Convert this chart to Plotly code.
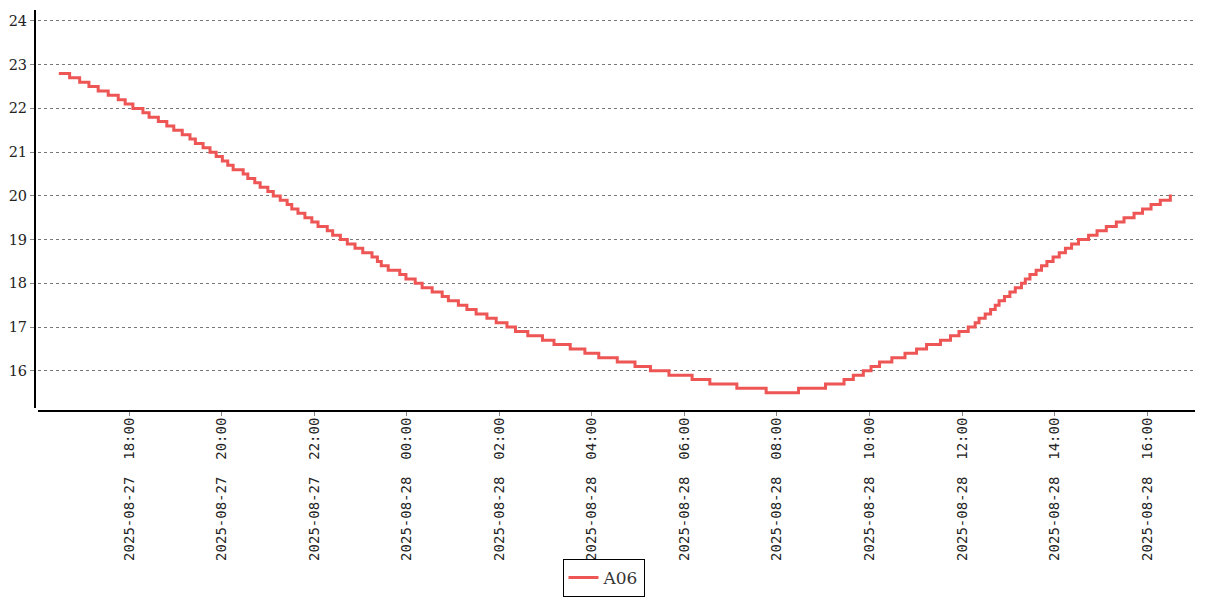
import plotly.graph_objects as go

series_name = "A06"

times = [
    "2025-08-27 16:29", "2025-08-27 16:43", "2025-08-27 16:56", "2025-08-27 17:08", "2025-08-27 17:20",
    "2025-08-27 17:33", "2025-08-27 17:46", "2025-08-27 17:55", "2025-08-27 18:05", "2025-08-27 18:18",
    "2025-08-27 18:26", "2025-08-27 18:38", "2025-08-27 18:49", "2025-08-27 18:58", "2025-08-27 19:09",
    "2025-08-27 19:19", "2025-08-27 19:26", "2025-08-27 19:36", "2025-08-27 19:45", "2025-08-27 19:53",
    "2025-08-27 20:01", "2025-08-27 20:08", "2025-08-27 20:15", "2025-08-27 20:28", "2025-08-27 20:34",
    "2025-08-27 20:43", "2025-08-27 20:50", "2025-08-27 21:00", "2025-08-27 21:07", "2025-08-27 21:16",
    "2025-08-27 21:25", "2025-08-27 21:31", "2025-08-27 21:39", "2025-08-27 21:48", "2025-08-27 21:57",
    "2025-08-27 22:05", "2025-08-27 22:17", "2025-08-27 22:24", "2025-08-27 22:34", "2025-08-27 22:43",
    "2025-08-27 22:53", "2025-08-27 23:03", "2025-08-27 23:15", "2025-08-27 23:22", "2025-08-27 23:27",
    "2025-08-27 23:36", "2025-08-27 23:51", "2025-08-27 23:59", "2025-08-28 00:11", "2025-08-28 00:20",
    "2025-08-28 00:33", "2025-08-28 00:46", "2025-08-28 00:54", "2025-08-28 01:07", "2025-08-28 01:18",
    "2025-08-28 01:30", "2025-08-28 01:44", "2025-08-28 01:56", "2025-08-28 02:10", "2025-08-28 02:21",
    "2025-08-28 02:37", "2025-08-28 02:56", "2025-08-28 03:11", "2025-08-28 03:32", "2025-08-28 03:51",
    "2025-08-28 04:09", "2025-08-28 04:33", "2025-08-28 04:56", "2025-08-28 05:16", "2025-08-28 05:40",
    "2025-08-28 06:10", "2025-08-28 06:33", "2025-08-28 07:08", "2025-08-28 07:46", "2025-08-28 08:28",
    "2025-08-28 09:03", "2025-08-28 09:27", "2025-08-28 09:39", "2025-08-28 09:52", "2025-08-28 10:02",
    "2025-08-28 10:13", "2025-08-28 10:29", "2025-08-28 10:46", "2025-08-28 11:01", "2025-08-28 11:14",
    "2025-08-28 11:32", "2025-08-28 11:45", "2025-08-28 11:56", "2025-08-28 12:08", "2025-08-28 12:17",
    "2025-08-28 12:22", "2025-08-28 12:30", "2025-08-28 12:37", "2025-08-28 12:43", "2025-08-28 12:48",
    "2025-08-28 12:55", "2025-08-28 13:02", "2025-08-28 13:09", "2025-08-28 13:17", "2025-08-28 13:22",
    "2025-08-28 13:28", "2025-08-28 13:36", "2025-08-28 13:43", "2025-08-28 13:50", "2025-08-28 13:58",
    "2025-08-28 14:06", "2025-08-28 14:14", "2025-08-28 14:22", "2025-08-28 14:31", "2025-08-28 14:44",
    "2025-08-28 14:55", "2025-08-28 15:07", "2025-08-28 15:20", "2025-08-28 15:30", "2025-08-28 15:43",
    "2025-08-28 15:54", "2025-08-28 16:05", "2025-08-28 16:17", "2025-08-28 16:30", "2025-08-28 16:32",
]

temps = [
    22.8, 22.7, 22.6, 22.5, 22.4, 22.3, 22.2, 22.1, 22.0, 21.9,
    21.8, 21.7, 21.6, 21.5, 21.4, 21.3, 21.2, 21.1, 21.0, 20.9,
    20.8, 20.7, 20.6, 20.5, 20.4, 20.3, 20.2, 20.1, 20.0, 19.9,
    19.8, 19.7, 19.6, 19.5, 19.4, 19.3, 19.2, 19.1, 19.0, 18.9,
    18.8, 18.7, 18.6, 18.5, 18.4, 18.3, 18.2, 18.1, 18.0, 17.9,
    17.8, 17.7, 17.6, 17.5, 17.4, 17.3, 17.2, 17.1, 17.0, 16.9,
    16.8, 16.7, 16.6, 16.5, 16.4, 16.3, 16.2, 16.1, 16.0, 15.9,
    15.8, 15.7, 15.6, 15.5, 15.6, 15.7, 15.8, 15.9, 16.0, 16.1,
    16.2, 16.3, 16.4, 16.5, 16.6, 16.7, 16.8, 16.9, 17.0, 17.1,
    17.2, 17.3, 17.4, 17.5, 17.6, 17.7, 17.8, 17.9, 18.0, 18.1,
    18.2, 18.3, 18.4, 18.5, 18.6, 18.7, 18.8, 18.9, 19.0, 19.1,
    19.2, 19.3, 19.4, 19.5, 19.6, 19.7, 19.8, 19.9, 20.0, 20.0,
]

y_ticks = [16, 17, 18, 19, 20, 21, 22, 23, 24]
x_range = ["2025-08-27 16:02", "2025-08-28 17:02"]
y_range = [15.15, 24.25]

fig = go.Figure()
fig.add_trace(go.Scatter(
    x=times, y=temps, name=series_name, mode="lines",
    line=dict(color="#ee5555", width=3, shape="hv"),
))

fig.update_layout(
    width=1207, height=600,
    margin=dict(l=35, r=12, t=10, b=189, autoexpand=False),
    plot_bgcolor="white", paper_bgcolor="white",
    font=dict(family="DejaVu Serif", size=14, color="#222"),
    showlegend=True,
    legend=dict(
        orientation="h", x=0.5, xanchor="center", xref="container",
        y=-0.464, yanchor="bottom",
        bordercolor="black", borderwidth=1,
        font=dict(family="DejaVu Serif", size=17, color="#333"),
        itemwidth=30, tracegroupgap=0,
    ),
    xaxis=dict(
        type="date", range=x_range, domain=[0.0026, 1],
        anchor="free", position=0, automargin=False,
        tick0="2025-08-27 00:00", dtick=7200000,
        tickformat="%Y-%m-%d  %H:%M", tickangle=-90,
        tickfont=dict(family="DejaVu Sans Mono", size=14, color="#222"),
        ticklabelstandoff=-4,
        showline=True, linecolor="black", linewidth=2,
        ticks="outside", ticklen=4, tickcolor="#888",
        showgrid=False, zeroline=False,
    ),
    yaxis=dict(
        range=y_range, domain=[0.0075, 1],
        anchor="free", position=0, automargin=False,
        tickvals=y_ticks,
        tickfont=dict(family="DejaVu Serif", size=14.5, color="#222"),
        showline=True, linecolor="black", linewidth=2,
        ticks="outside", ticklen=4, tickcolor="#888",
        showgrid=True, gridcolor="#777", griddash="dot", gridwidth=1,
        zeroline=False,
    ),
)

fig.write_html(
    "out.html",
    config={"displayModeBar": False},
    post_script="document.body.style.margin='0';",
)
